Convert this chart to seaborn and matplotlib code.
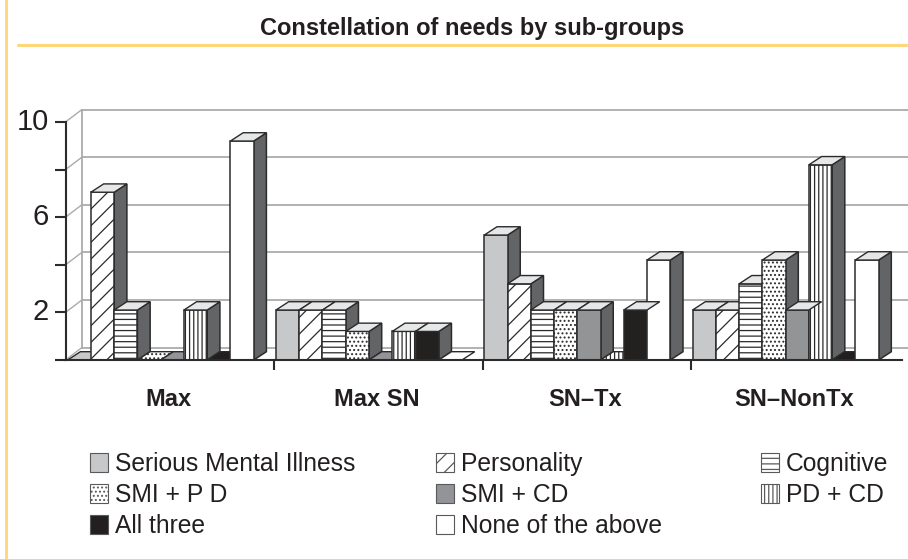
import pandas as pd
import matplotlib.pyplot as plt
import seaborn as sns
from matplotlib.lines import Line2D
from matplotlib.patches import Patch, Polygon
from matplotlib.transforms import ScaledTranslation

groups = ["Max", "Max SN", "SN–Tx", "SN–NonTx"]
needs = ["Serious Mental Illness", "Personality", "Cognitive", "SMI + P D",
         "SMI + CD", "PD + CD", "All three", "None of the above"]

#values, same order as groups
smi = [0, 2.1, 5.25, 2.1]
personality = [7.05, 2.1, 3.2, 2.1]
cognitive = [2.1, 2.1, 2.1, 3.2]
smi_pd = [0, 1.2, 2.1, 4.2]
smi_cd = [0, 0, 2.1, 2.1]
pd_cd = [2.1, 1.2, 0, 8.2]
all_three = [0, 1.2, 2.1, 0]
none_above = [9.2, 0, 4.2, 4.2]
values = [smi, personality, cognitive, smi_pd, smi_cd, pd_cd, all_three, none_above]

colors = ["#c6c8ca", "white", "white", "white", "#929497", "white", "#231f20", "white"]
hatches = ["", "//", "---", "....", "", "||||", "", ""]

W, H = 908, 559
YELLOW = "#fdd77a"
SIDE = "#636466"
TOP = "#e6e7e8"
EDGE = "#2b2b2b"
GRID = "#a9abae"

sns.set_theme(style="white")
plt.rcParams["font.family"] = ["Liberation Sans", "DejaVu Sans"]
plt.rcParams["hatch.linewidth"] = 0.9

rows = []
for need, vals in zip(needs, values):
    for group, v in zip(groups, vals):
        rows.append({"group": group, "need": need, "value": v})
df = pd.DataFrame(rows)

fig = plt.figure(figsize=(W / 100, H / 100), dpi=100)
ax = fig.add_axes([65.5 / W, 1 - 360 / H, (902 - 65.5) / W, 260 / H])
ax.patch.set_alpha(0)

sns.barplot(data=df, x="group", y="value", hue="need", order=groups, hue_order=needs,
            palette=colors, width=0.893, gap=0, edgecolor=EDGE, linewidth=1.1,
            legend=False, ax=ax)

ax.set_xlim((65.5 - 160.7) / 208.3, (902 - 160.7) / 208.3)
ax.set_ylim(0, 260 / 23.8)

#depth of the fake 3D, in data units
bar_dx, bar_dy = 12.7 / 208.3, 8.3 / 23.8
wall_dx, wall_dy = 16.5 / 208.3, 12.5 / 23.8

#tops that sit over the next bar in the reference
over_next = [("SN–Tx", "All three"), ("SN–NonTx", "SMI + CD")]

for i, cont in enumerate(ax.containers):
    for j, bar in enumerate(cont.patches):
        z = 3 + (j * 8 + i) * 0.1
        x0, x1, h = bar.get_x(), bar.get_x() + bar.get_width(), bar.get_height()
        bar.set_hatch(hatches[i])
        bar.set_zorder(z)
        top_z = z + 0.05
        if h > 0:
            ax.add_patch(Polygon([(x1, 0), (x1 + bar_dx, bar_dy), (x1 + bar_dx, h + bar_dy), (x1, h)],
                                 facecolor=SIDE, edgecolor=EDGE, lw=1.1, zorder=z - 0.02))
            top_color, top_hatch = TOP, ""
        else:
            #empty bar: only its floor shows, in the series fill
            top_color, top_hatch = colors[i], hatches[i]
        if (groups[j], needs[i]) in over_next:
            top_z = z + 0.25
        ax.add_patch(Polygon([(x0, h), (x1, h), (x1 + bar_dx, h + bar_dy), (x0 + bar_dx, h + bar_dy)],
                             facecolor=top_color, edgecolor=EDGE, hatch=top_hatch, lw=1.0, zorder=top_z))

#back wall
y_ticks = [0, 2, 4, 6, 8, 10]
x_left = ax.get_xlim()[0]
x_far = (908 - 160.7) / 208.3
for t in y_ticks:
    ax.plot([x_left + wall_dx, x_far], [t + wall_dy, t + wall_dy], color=GRID, lw=1.3,
            zorder=1, clip_on=False)
    ax.plot([x_left, x_left + wall_dx], [t, t + wall_dy], color=GRID, lw=1.0, zorder=1)
ax.plot([x_left + wall_dx, x_left + wall_dx], [wall_dy, 10 + wall_dy], color=GRID, lw=1.3, zorder=1)

sns.despine(ax=ax, top=True, right=True)
ax.spines["left"].set_bounds(0, 10)
ax.spines["left"].set_linewidth(1.5)
ax.spines["left"].set_color(EDGE)
ax.spines["bottom"].set_linewidth(1.5)
ax.spines["bottom"].set_color(EDGE)
ax.spines["left"].set_zorder(20)
ax.spines["bottom"].set_zorder(20)

ax.set_xlabel("")
ax.set_ylabel("")
ax.set_yticks(y_ticks)
ax.set_yticklabels(["", "2", "", "6", "", "10"], fontsize=21, color="#231f20")
ax.tick_params(axis="y", left=True, length=8, width=1.5, color=EDGE, pad=4)
ax.set_xticks(range(4))
ax.set_xticklabels(groups, fontsize=17, fontweight="bold", color="#231f20")
ax.set_xticks([0.545, 1.545, 2.545], minor=True)
ax.tick_params(axis="x", which="major", bottom=False, pad=14)
ax.tick_params(axis="x", which="minor", bottom=True, length=7.2, width=1.5, color=EDGE)

#labels sit a little off the bar groups
for lab in ax.get_xticklabels():
    lab.set_transform(lab.get_transform() + ScaledTranslation(8 / 100, 0, fig.dpi_scale_trans))
for lab in ax.get_yticklabels():
    lab.set_transform(lab.get_transform() + ScaledTranslation(0, 3 / 100, fig.dpi_scale_trans))

#frame
fig.add_artist(Line2D([6 / W, 6 / W], [0, 1], color=YELLOW, lw=2))
fig.add_artist(Line2D([18 / W, 1], [1 - 45 / H, 1 - 45 / H], color=YELLOW, lw=2.2))
fig.text(472 / W, 1 - 28 / H, "Constellation of needs by sub-groups", ha="center", va="center",
         fontsize=17, fontweight="bold", color="#231f20")

#legend, three columns at their own positions
handles = [Patch(facecolor=c, edgecolor="#58595b", hatch=h, lw=0.8, label=n)
           for c, h, n in zip(colors, hatches, needs)]
columns = [(90, handles[0::3]), (436, handles[1::3]), (761, handles[2::3])]
for x_px, hs in columns:
    fig.legend(handles=hs, loc="upper left", bbox_to_anchor=(x_px / W, 1 - 452 / H),
               frameon=False, fontsize=17.7, handlelength=0.72, handleheight=0.84,
               handletextpad=0.3, labelspacing=0.28, borderpad=0, borderaxespad=0,
               labelcolor="#231f20")

fig.savefig("out.png", dpi=100)
